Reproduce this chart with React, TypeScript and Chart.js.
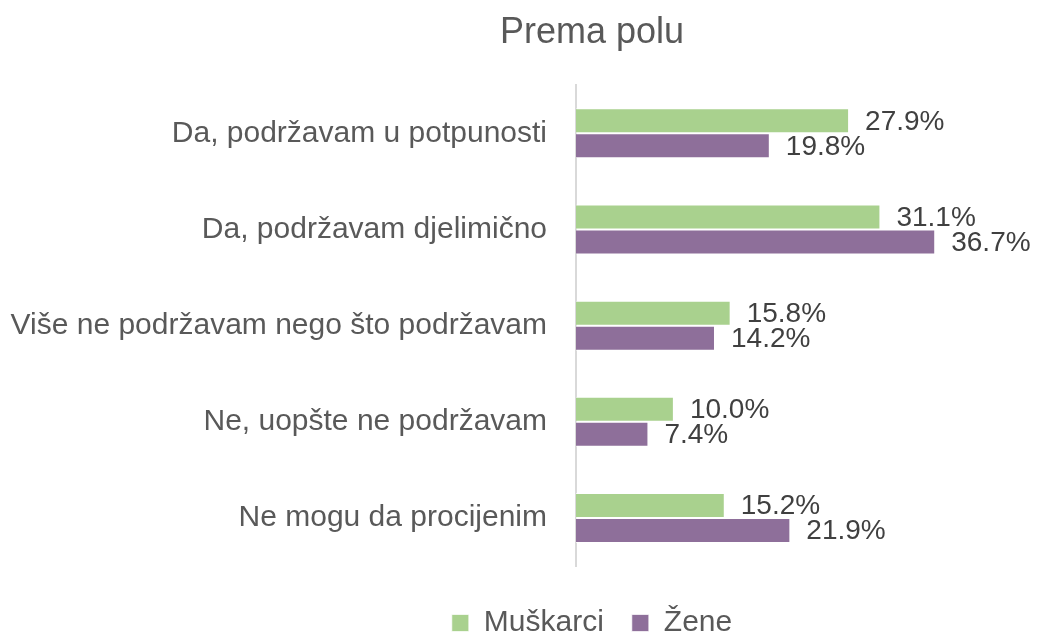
import React, { useEffect, useRef } from "react";
import { Chart, registerables } from "chart.js";

Chart.register(...registerables);

const categories = [
  "Da, podržavam u potpunosti",
  "Da, podržavam djelimično",
  "Više ne podržavam nego što podržavam",
  "Ne, uopšte ne podržavam",
  "Ne mogu da procijenim",
];
const seriesNames = ["Muškarci", "Žene"];
const muskarci = [27.9, 31.1, 15.8, 10.0, 15.2];
const zene = [19.8, 36.7, 14.2, 7.4, 21.9];
const xMin = 0;
const xMax = 47.2;

const FONT = '"Liberation Sans", Arial, sans-serif';

const valueLabels = {
  id: "valueLabels",
  afterDatasetsDraw(chart: any) {
    const ctx = chart.ctx;
    ctx.save();
    ctx.font = `28px ${FONT}`;
    ctx.fillStyle = "#404040";
    ctx.textAlign = "left";
    ctx.textBaseline = "middle";
    chart.data.datasets.forEach((ds: any, i: number) => {
      const meta = chart.getDatasetMeta(i);
      meta.data.forEach((el: any, j: number) => {
        const v = ds.data[j] as number;
        ctx.fillText(v.toFixed(1) + "%", el.x + 16, el.y + 1);
      });
    });
    ctx.restore();
  },
};

export default function App() {
  const ref = useRef<HTMLCanvasElement>(null);
  useEffect(() => {
    if (!ref.current) return;
    const chart = new Chart(ref.current, {
      type: "bar",
      data: {
        labels: categories,
        datasets: [
          {
            label: seriesNames[0],
            data: muskarci,
            backgroundColor: "#A9D18E",
            borderColor: "rgba(255,255,255,0.7)",
            borderWidth: 1,
            categoryPercentage: 0.52,
            barPercentage: 1,
          },
          {
            label: seriesNames[1],
            data: zene,
            backgroundColor: "#8E6F9A",
            borderColor: "rgba(255,255,255,0.7)",
            borderWidth: 1,
            categoryPercentage: 0.52,
            barPercentage: 1,
          },
        ],
      },
      options: {
        indexAxis: "y",
        animation: false,
        responsive: false,
        maintainAspectRatio: false,
        layout: { padding: { left: 0, right: -146, top: 0, bottom: -15 } },
        scales: {
          x: {
            min: xMin,
            max: xMax,
            display: true,
            ticks: { display: false },
            grid: { display: false, drawTicks: false },
            border: { display: false },
            afterFit: (s: any) => {
              s.height = 14;
            },
          },
          y: {
            ticks: {
              color: "#595959",
              font: { family: FONT, size: 30 },
              padding: 29,
            },
            grid: { display: false, drawTicks: false },
            border: { display: true, color: "#D9D9D9", width: 2 },
            afterFit: (s: any) => {
              s.width = 576;
            },
          },
        },
        plugins: {
          title: {
            display: true,
            text: "Prema polu",
            color: "#595959",
            font: { family: FONT, size: 36, weight: "normal" },
            padding: { top: 11.4, bottom: 30.7 },
          },
          legend: {
            display: true,
            position: "bottom",
            labels: {
              color: "#595959",
              font: { family: FONT, size: 30 },
              boxWidth: 17,
              boxHeight: 17,
              padding: 28,
            },
          },
          tooltip: { enabled: false },
        },
      },
      plugins: [valueLabels],
    });
    return () => chart.destroy();
  }, []);
  return (
    <div style={{ position: "absolute", left: 0, top: 0, width: 1038, height: 633 }}>
      <canvas ref={ref} width={1038} height={633} style={{ width: 1038, height: 633 }} />
    </div>
  );
}
